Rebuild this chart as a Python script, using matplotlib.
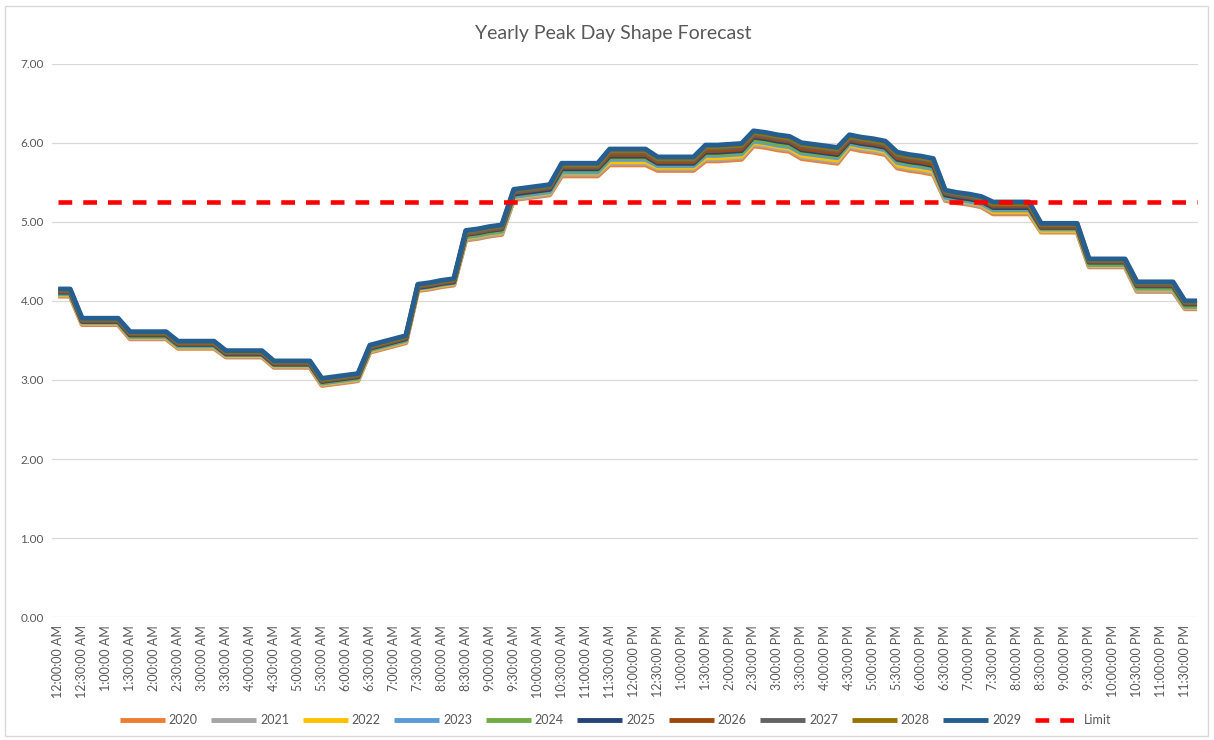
import matplotlib
matplotlib.use("Agg")
import matplotlib.pyplot as plt
from matplotlib.patches import Rectangle

plt.rcParams['font.family'] = ['Lato', 'DejaVu Sans']

# 15-minute readings, 96 per day
y2020 = [4.06, 4.06,
         3.70, 3.70, 3.70, 3.70, 3.52, 3.52, 3.52, 3.52, 3.40, 3.40, 3.40, 3.40,
         3.29, 3.29, 3.29, 3.29, 3.16, 3.16, 3.16, 3.16, 2.93, 2.95, 2.97, 2.99,
         3.35, 3.39, 3.43, 3.47, 4.13, 4.15, 4.18, 4.20, 4.77, 4.79, 4.82, 4.84,
         5.28, 5.30, 5.32, 5.34, 5.58, 5.58, 5.58, 5.58, 5.72, 5.72, 5.72, 5.72,
         5.65, 5.65, 5.65, 5.65, 5.77, 5.77, 5.78, 5.79, 5.96, 5.94, 5.91, 5.89,
         5.80, 5.78, 5.76, 5.74, 5.93, 5.90, 5.88, 5.85, 5.68, 5.65, 5.63, 5.60,
         5.27, 5.24, 5.22, 5.19, 5.10, 5.10, 5.10, 5.10, 4.87, 4.87, 4.87, 4.87,
         4.43, 4.43, 4.43, 4.43, 4.12, 4.12, 4.12, 4.12,
         3.90, 3.90]
y2021 = [4.07, 4.07,
         3.71, 3.71, 3.71, 3.71, 3.53, 3.53, 3.53, 3.53, 3.41, 3.41, 3.41, 3.41,
         3.30, 3.30, 3.30, 3.30, 3.17, 3.17, 3.17, 3.17, 2.94, 2.96, 2.98, 3.00,
         3.36, 3.40, 3.44, 3.48, 4.14, 4.16, 4.19, 4.21, 4.78, 4.80, 4.83, 4.85,
         5.29, 5.31, 5.33, 5.35, 5.60, 5.60, 5.60, 5.60, 5.74, 5.74, 5.74, 5.74,
         5.67, 5.67, 5.67, 5.67, 5.79, 5.79, 5.80, 5.81, 5.98, 5.96, 5.93, 5.91,
         5.82, 5.80, 5.78, 5.76, 5.95, 5.92, 5.90, 5.87, 5.70, 5.67, 5.65, 5.62,
         5.28, 5.25, 5.23, 5.20, 5.12, 5.12, 5.12, 5.12, 4.88, 4.88, 4.88, 4.88,
         4.44, 4.44, 4.44, 4.44, 4.13, 4.13, 4.13, 4.13,
         3.91, 3.91]
y2022 = [4.08, 4.08,
         3.72, 3.72, 3.72, 3.72, 3.54, 3.54, 3.54, 3.54, 3.42, 3.42, 3.42, 3.42,
         3.31, 3.31, 3.31, 3.31, 3.18, 3.18, 3.18, 3.18, 2.95, 2.97, 2.99, 3.01,
         3.37, 3.41, 3.45, 3.49, 4.15, 4.17, 4.20, 4.22, 4.80, 4.82, 4.85, 4.87,
         5.31, 5.33, 5.35, 5.37, 5.62, 5.62, 5.62, 5.62, 5.76, 5.76, 5.76, 5.76,
         5.69, 5.69, 5.69, 5.69, 5.81, 5.81, 5.82, 5.83, 6.00, 5.98, 5.95, 5.93,
         5.84, 5.82, 5.80, 5.78, 5.97, 5.94, 5.92, 5.89, 5.72, 5.69, 5.67, 5.64,
         5.30, 5.27, 5.25, 5.22, 5.13, 5.13, 5.13, 5.13, 4.89, 4.89, 4.89, 4.89,
         4.45, 4.45, 4.45, 4.45, 4.15, 4.15, 4.15, 4.15,
         3.92, 3.92]
y2023 = [4.09, 4.09,
         3.73, 3.73, 3.73, 3.73, 3.55, 3.55, 3.55, 3.55, 3.43, 3.43, 3.43, 3.43,
         3.32, 3.32, 3.32, 3.32, 3.19, 3.19, 3.19, 3.19, 2.96, 2.98, 3.00, 3.02,
         3.38, 3.42, 3.46, 3.50, 4.16, 4.18, 4.21, 4.23, 4.81, 4.83, 4.86, 4.88,
         5.32, 5.34, 5.36, 5.38, 5.63, 5.63, 5.63, 5.63, 5.79, 5.79, 5.79, 5.79,
         5.71, 5.71, 5.71, 5.71, 5.84, 5.84, 5.85, 5.86, 6.02, 6.00, 5.97, 5.95,
         5.87, 5.85, 5.83, 5.81, 5.99, 5.96, 5.94, 5.91, 5.75, 5.72, 5.70, 5.67,
         5.31, 5.28, 5.26, 5.23, 5.15, 5.15, 5.15, 5.15, 4.91, 4.91, 4.91, 4.91,
         4.46, 4.46, 4.46, 4.46, 4.16, 4.16, 4.16, 4.16,
         3.93, 3.93]
y2024 = [4.10, 4.10,
         3.74, 3.74, 3.74, 3.74, 3.56, 3.56, 3.56, 3.56, 3.44, 3.44, 3.44, 3.44,
         3.33, 3.33, 3.33, 3.33, 3.20, 3.20, 3.20, 3.20, 2.97, 2.99, 3.01, 3.03,
         3.39, 3.43, 3.47, 3.51, 4.17, 4.19, 4.22, 4.24, 4.82, 4.84, 4.87, 4.89,
         5.34, 5.36, 5.38, 5.40, 5.65, 5.65, 5.65, 5.65, 5.81, 5.81, 5.81, 5.81,
         5.73, 5.73, 5.73, 5.73, 5.86, 5.86, 5.87, 5.88, 6.04, 6.02, 5.99, 5.97,
         5.89, 5.87, 5.85, 5.83, 6.01, 5.98, 5.96, 5.93, 5.77, 5.74, 5.72, 5.69,
         5.33, 5.30, 5.28, 5.25, 5.17, 5.17, 5.17, 5.17, 4.92, 4.92, 4.92, 4.92,
         4.47, 4.47, 4.47, 4.47, 4.17, 4.17, 4.17, 4.17,
         3.94, 3.94]
y2025 = [4.11, 4.11,
         3.74, 3.74, 3.74, 3.74, 3.57, 3.57, 3.57, 3.57, 3.45, 3.45, 3.45, 3.45,
         3.33, 3.33, 3.33, 3.33, 3.20, 3.20, 3.20, 3.20, 2.98, 3.00, 3.02, 3.04,
         3.40, 3.44, 3.48, 3.52, 4.17, 4.19, 4.22, 4.24, 4.84, 4.86, 4.89, 4.91,
         5.35, 5.37, 5.39, 5.41, 5.67, 5.67, 5.67, 5.67, 5.83, 5.83, 5.83, 5.83,
         5.74, 5.74, 5.74, 5.74, 5.88, 5.88, 5.89, 5.90, 6.07, 6.05, 6.02, 6.00,
         5.91, 5.89, 5.87, 5.85, 6.02, 5.99, 5.97, 5.94, 5.79, 5.76, 5.74, 5.71,
         5.34, 5.31, 5.29, 5.26, 5.18, 5.18, 5.18, 5.18, 4.93, 4.93, 4.93, 4.93,
         4.49, 4.49, 4.49, 4.49, 4.19, 4.19, 4.19, 4.19,
         3.96, 3.96]
y2026 = [4.12, 4.12,
         3.75, 3.75, 3.75, 3.75, 3.58, 3.58, 3.58, 3.58, 3.46, 3.46, 3.46, 3.46,
         3.34, 3.34, 3.34, 3.34, 3.21, 3.21, 3.21, 3.21, 2.99, 3.01, 3.03, 3.05,
         3.41, 3.45, 3.49, 3.53, 4.18, 4.20, 4.23, 4.25, 4.85, 4.87, 4.90, 4.92,
         5.37, 5.39, 5.41, 5.43, 5.69, 5.69, 5.69, 5.69, 5.85, 5.85, 5.85, 5.85,
         5.76, 5.76, 5.76, 5.76, 5.90, 5.90, 5.91, 5.92, 6.09, 6.07, 6.04, 6.02,
         5.93, 5.91, 5.89, 5.87, 6.04, 6.01, 5.99, 5.96, 5.81, 5.78, 5.76, 5.73,
         5.36, 5.33, 5.31, 5.28, 5.20, 5.20, 5.20, 5.20, 4.94, 4.94, 4.94, 4.94,
         4.50, 4.50, 4.50, 4.50, 4.20, 4.20, 4.20, 4.20,
         3.97, 3.97]
y2027 = [4.13, 4.13,
         3.76, 3.76, 3.76, 3.76, 3.59, 3.59, 3.59, 3.59, 3.47, 3.47, 3.47, 3.47,
         3.35, 3.35, 3.35, 3.35, 3.22, 3.22, 3.22, 3.22, 3.00, 3.02, 3.04, 3.06,
         3.42, 3.46, 3.50, 3.54, 4.19, 4.21, 4.24, 4.26, 4.86, 4.88, 4.91, 4.93,
         5.38, 5.40, 5.42, 5.44, 5.70, 5.70, 5.70, 5.70, 5.88, 5.88, 5.88, 5.88,
         5.78, 5.78, 5.78, 5.78, 5.93, 5.93, 5.94, 5.95, 6.11, 6.09, 6.06, 6.04,
         5.96, 5.94, 5.92, 5.90, 6.06, 6.03, 6.01, 5.98, 5.84, 5.81, 5.79, 5.76,
         5.37, 5.34, 5.32, 5.29, 5.22, 5.22, 5.22, 5.22, 4.96, 4.96, 4.96, 4.96,
         4.51, 4.51, 4.51, 4.51, 4.21, 4.21, 4.21, 4.21,
         3.98, 3.98]
y2028 = [4.14, 4.14,
         3.77, 3.77, 3.77, 3.77, 3.60, 3.60, 3.60, 3.60, 3.48, 3.48, 3.48, 3.48,
         3.36, 3.36, 3.36, 3.36, 3.23, 3.23, 3.23, 3.23, 3.01, 3.03, 3.05, 3.07,
         3.43, 3.47, 3.51, 3.55, 4.20, 4.22, 4.25, 4.27, 4.88, 4.90, 4.93, 4.95,
         5.40, 5.42, 5.44, 5.46, 5.72, 5.72, 5.72, 5.72, 5.90, 5.90, 5.90, 5.90,
         5.80, 5.80, 5.80, 5.80, 5.95, 5.95, 5.96, 5.97, 6.13, 6.11, 6.08, 6.06,
         5.98, 5.96, 5.94, 5.92, 6.08, 6.05, 6.03, 6.00, 5.86, 5.83, 5.81, 5.78,
         5.39, 5.36, 5.34, 5.31, 5.23, 5.23, 5.23, 5.23, 4.97, 4.97, 4.97, 4.97,
         4.52, 4.52, 4.52, 4.52, 4.23, 4.23, 4.23, 4.23,
         3.99, 3.99]
y2029 = [4.15, 4.15,
         3.78, 3.78, 3.78, 3.78, 3.61, 3.61, 3.61, 3.61, 3.49, 3.49, 3.49, 3.49,
         3.37, 3.37, 3.37, 3.37, 3.24, 3.24, 3.24, 3.24, 3.02, 3.04, 3.06, 3.08,
         3.44, 3.48, 3.52, 3.56, 4.21, 4.23, 4.26, 4.28, 4.89, 4.91, 4.94, 4.96,
         5.41, 5.43, 5.45, 5.47, 5.74, 5.74, 5.74, 5.74, 5.92, 5.92, 5.92, 5.92,
         5.82, 5.82, 5.82, 5.82, 5.97, 5.97, 5.98, 5.99, 6.15, 6.13, 6.10, 6.08,
         6.00, 5.98, 5.96, 5.94, 6.10, 6.07, 6.05, 6.02, 5.88, 5.85, 5.83, 5.80,
         5.40, 5.37, 5.35, 5.32, 5.25, 5.25, 5.25, 5.25, 4.98, 4.98, 4.98, 4.98,
         4.53, 4.53, 4.53, 4.53, 4.24, 4.24, 4.24, 4.24,
         4.00, 4.00]
limit = 5.25

years = ["2020", "2021", "2022", "2023", "2024", "2025", "2026", "2027", "2028", "2029"]
series = [y2020, y2021, y2022, y2023, y2024, y2025, y2026, y2027, y2028, y2029]
colors = ["#ED7D31", "#A5A5A5", "#FFC000", "#5B9BD5", "#70AD47",
          "#264478", "#9E480E", "#636363", "#997300", "#255E91"]

time_labels = ["12:00:00 AM", "12:30:00 AM", "1:00:00 AM", "1:30:00 AM", "2:00:00 AM", "2:30:00 AM",
               "3:00:00 AM", "3:30:00 AM", "4:00:00 AM", "4:30:00 AM", "5:00:00 AM", "5:30:00 AM",
               "6:00:00 AM", "6:30:00 AM", "7:00:00 AM", "7:30:00 AM", "8:00:00 AM", "8:30:00 AM",
               "9:00:00 AM", "9:30:00 AM", "10:00:00 AM", "10:30:00 AM", "11:00:00 AM", "11:30:00 AM",
               "12:00:00 PM", "12:30:00 PM", "1:00:00 PM", "1:30:00 PM", "2:00:00 PM", "2:30:00 PM",
               "3:00:00 PM", "3:30:00 PM", "4:00:00 PM", "4:30:00 PM", "5:00:00 PM", "5:30:00 PM",
               "6:00:00 PM", "6:30:00 PM", "7:00:00 PM", "7:30:00 PM", "8:00:00 PM", "8:30:00 PM",
               "9:00:00 PM", "9:30:00 PM", "10:00:00 PM", "10:30:00 PM", "11:00:00 PM", "11:30:00 PM"]

x = list(range(len(y2020)))
txt = "#595959"

fig = plt.figure(figsize=(12.14, 7.40), dpi=100)
ax = fig.add_axes([0.043, 0.166, 0.944, 0.748])

for name, vals, c in zip(years, series, colors):
    ax.plot(x, vals, color=c, lw=3.5, label=name, solid_joinstyle="round", solid_capstyle="butt")
ax.plot(x, [limit] * len(x), color="#FF0000", lw=3.3, ls=(0, (3.0, 2.4)),
        dash_capstyle="butt", label="Limit")

ax.set_ylim(0, 7)
ax.set_xlim(-0.5, 95.1)
ax.set_yticks([0, 1, 2, 3, 4, 5, 6, 7])
ax.set_yticklabels(["%.2f" % v for v in range(8)], fontsize=8.5, color=txt)
ax.set_xticks(x[::2])
ax.set_xticklabels(time_labels, rotation=90, fontsize=9, color=txt)
ax.tick_params(length=0, pad=6)
ax.grid(axis="y", color="#D9D9D9", lw=0.9)
ax.set_axisbelow(True)
for s in ax.spines.values():
    s.set_visible(False)

fig.text(0.505, 0.955, "Yearly Peak Day Shape Forecast", ha="center", va="center",
         fontsize=14, color=txt)

fig.legend(loc="center", bbox_to_anchor=(0.507, 0.027), ncol=11, frameon=False,
           fontsize=9, handlelength=3.6, columnspacing=1.1, handletextpad=0.3,
           labelcolor=txt)

fig.patches.append(Rectangle((0.004, 0.005), 0.991, 0.987, transform=fig.transFigure,
                             fill=False, edgecolor="#D9D9D9", lw=1))

fig.savefig("out.png", dpi=100)
